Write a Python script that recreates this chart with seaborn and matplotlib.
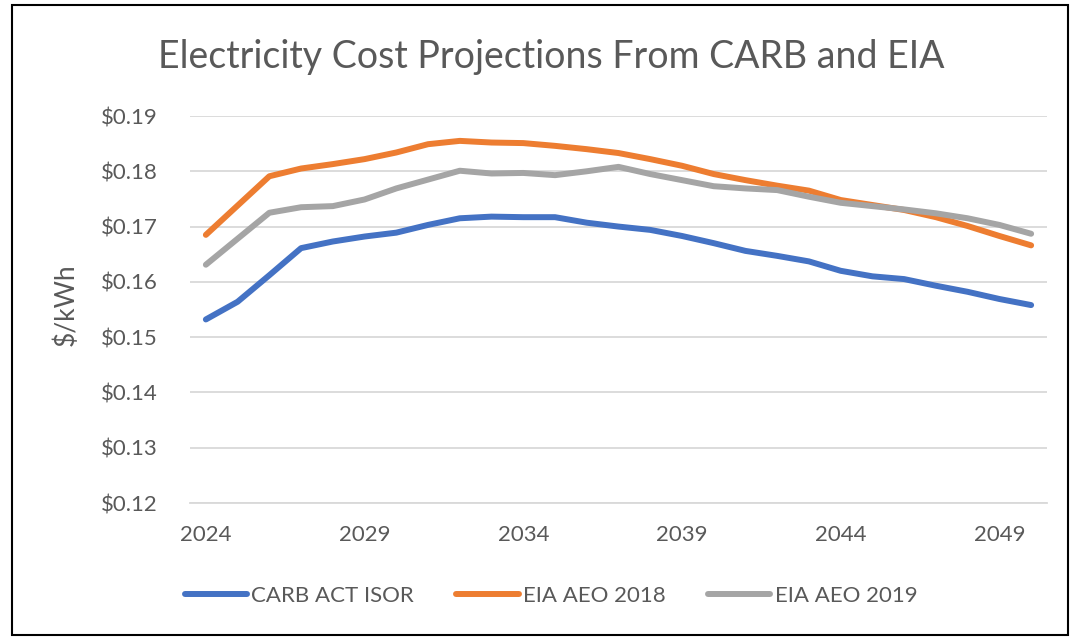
import matplotlib
matplotlib.use("Agg")
import matplotlib.pyplot as plt
import seaborn as sns
import pandas as pd
from matplotlib.patches import Rectangle

years = list(range(2024, 2051))
carb_act_isor = [0.1532, 0.1564, 0.1612, 0.1661, 0.1673, 0.1682, 0.1689, 0.1703, 0.1715, 0.1718,
                 0.1717, 0.1717, 0.1707, 0.1700, 0.1694, 0.1683, 0.1670, 0.1656, 0.1647, 0.1637,
                 0.1620, 0.1610, 0.1605, 0.1593, 0.1582, 0.1569, 0.1558]
eia_aeo_2018 = [0.1685, 0.1738, 0.1791, 0.1805, 0.1813, 0.1822, 0.1834, 0.1849, 0.1855, 0.1852,
                0.1851, 0.1846, 0.1840, 0.1833, 0.1822, 0.1810, 0.1795, 0.1784, 0.1774, 0.1765,
                0.1748, 0.1739, 0.1730, 0.1717, 0.1701, 0.1683, 0.1666]
eia_aeo_2019 = [0.1631, 0.1678, 0.1725, 0.1735, 0.1737, 0.1749, 0.1769, 0.1785, 0.1801, 0.1796,
                0.1797, 0.1793, 0.1800, 0.1808, 0.1795, 0.1784, 0.1773, 0.1769, 0.1766, 0.1754,
                0.1743, 0.1737, 0.1731, 0.1724, 0.1715, 0.1703, 0.1687]
series_names = ["CARB ACT ISOR", "EIA AEO 2018", "EIA AEO 2019"]
series_colors = ["#4472C4", "#ED7D31", "#A5A5A5"]
x_ticks = [2024, 2029, 2034, 2039, 2044, 2049]
y_ticks = [0.12, 0.13, 0.14, 0.15, 0.16, 0.17, 0.18, 0.19]

df = pd.DataFrame({
    "Year": years * 3,
    "Value": carb_act_isor + eia_aeo_2018 + eia_aeo_2019,
    "Series": [series_names[0]] * len(years) + [series_names[1]] * len(years) + [series_names[2]] * len(years),
})

sns.set_theme(style="white")
plt.rcParams["font.family"] = ["Lato", "DejaVu Sans"]

text_color = "#595959"
fig = plt.figure(figsize=(10.77, 6.39), dpi=100)
ax = fig.add_axes([190 / 1077, 1 - 503 / 639, (1047 - 190) / 1077, (503 - 116) / 639])

sns.lineplot(data=df, x="Year", y="Value", hue="Series", hue_order=series_names,
             palette=series_colors, linewidth=4.3, ax=ax, legend=False)
for ln in ax.get_lines():
    ln.set_solid_capstyle("round")
    ln.set_solid_joinstyle("round")

ax.set_xlim(2023.5, 2050.5)
ax.set_ylim(0.12, 0.19)
ax.set_xticks(x_ticks)
ax.set_xticklabels([str(t) for t in x_ticks], fontsize=16, color=text_color)
ax.set_yticks(y_ticks)
ax.set_yticklabels(["\\$%.2f" % t for t in y_ticks], fontsize=16, color=text_color)
ax.tick_params(axis="x", length=0, pad=16)
ax.tick_params(axis="y", length=0, pad=23)
ax.grid(axis="y", color="#d9d9d9", linewidth=1.3)
ax.set_axisbelow(True)
for s in ["top", "right", "left"]:
    ax.spines[s].set_visible(False)
ax.spines["bottom"].set_color("#d9d9d9")
ax.spines["bottom"].set_linewidth(1.3)
ax.set_xlabel("")
ax.set_ylabel("")
fig.text(66 / 1077, 1 - 305 / 639, "\\$/kWh", rotation=90, ha="center", va="center",
         fontsize=19, color=text_color)

fig.text(0.512, 1 - 57 / 639, "Electricity Cost Projections From CARB and EIA",
         ha="center", va="center", fontsize=27, color=text_color)

handles = [plt.Line2D([0], [0], color=c, linewidth=4.3, solid_capstyle="round") for c in series_colors]
fig.legend(handles, series_names, loc="center", bbox_to_anchor=(551 / 1077, 1 - 596 / 639),
           ncol=3, frameon=False, fontsize=16, labelcolor=text_color,
           handlelength=2.8, handletextpad=0.2, columnspacing=1.9)

fig.add_artist(Rectangle((12 / 1077, 1 - 635 / 639), (1068 - 12) / 1077, (635 - 5) / 639,
                         transform=fig.transFigure, fill=False, edgecolor="black", linewidth=1.5))

fig.savefig("out.png", dpi=100)
